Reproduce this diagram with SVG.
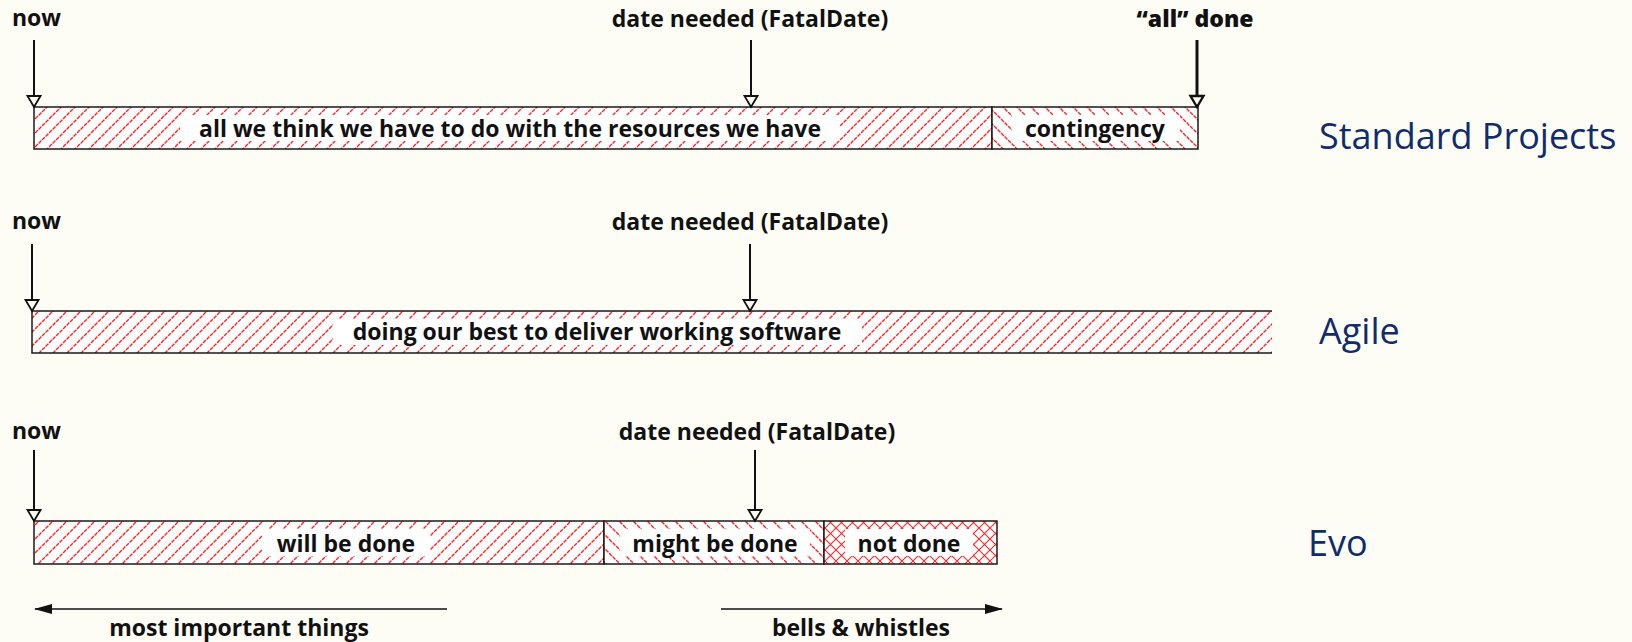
<svg xmlns="http://www.w3.org/2000/svg" width="1632" height="642" viewBox="0 0 1632 642">
  <style>
    .lbl { font-family: "Open Sans", "Liberation Sans", sans-serif; font-weight: 700; font-size: 23px; fill: #111; }
    .mid { text-anchor: middle; }
    .heavy { font-weight: 800; }
    .title { font-family: "Open Sans", "Liberation Sans", sans-serif; font-weight: 400; font-size: 36px; fill: #102c6c; }
    .edge { fill: none; stroke: #1a1a1a; stroke-width: 1.5; }
    .pad { fill: #ffffff; }
    .ptr { stroke: #111; stroke-width: 2; fill: none; }
    .ptr-bold { stroke: #111; stroke-width: 3; fill: none; }
  </style>
  <defs>
    <!-- forward hatch "/" -->
    <pattern id="hatchF" patternUnits="userSpaceOnUse" width="14" height="14">
      <rect width="14" height="14" fill="#ffffff"/>
      <path d="M-3,3 L3,-3 M0,14 L14,0 M11,17 L17,11" stroke="#ff2424" stroke-width="1.4" stroke-dasharray="4 1"/>
    </pattern>
    <!-- backward hatch "\" -->
    <pattern id="hatchB" patternUnits="userSpaceOnUse" width="14" height="14">
      <rect width="14" height="14" fill="#ffffff"/>
      <path d="M-3,11 L3,17 M0,0 L14,14 M11,-3 L17,3" stroke="#ff2424" stroke-width="1.4" stroke-dasharray="4 1"/>
    </pattern>
    <!-- cross hatch "x" -->
    <pattern id="hatchX" patternUnits="userSpaceOnUse" width="11" height="11">
      <rect width="11" height="11" fill="#ffffff"/>
      <path d="M0,0 L11,11 M0,11 L11,0" stroke="#ff2424" stroke-width="1.1"/>
    </pattern>
    <marker id="openHead" viewBox="0 0 12 14" refX="11" refY="7" markerWidth="12" markerHeight="14" markerUnits="userSpaceOnUse" orient="auto" overflow="visible">
      <path d="M0,0.5 L11,7 L0,13.5 Z" fill="#fdfdf6" stroke="#111" stroke-width="1.8" stroke-linejoin="miter"/>
    </marker>
    <marker id="openHeadBold" viewBox="0 0 12 14" refX="11" refY="7" markerWidth="12" markerHeight="14" markerUnits="userSpaceOnUse" orient="auto" overflow="visible">
      <path d="M0,0.5 L11,7 L0,13.5 Z" fill="#fdfdf6" stroke="#111" stroke-width="2.4" stroke-linejoin="miter"/>
    </marker>
    <marker id="solidHead" viewBox="0 0 18 10" refX="17" refY="5" markerWidth="18" markerHeight="10" markerUnits="userSpaceOnUse" orient="auto" overflow="visible">
      <path d="M0,0 L18,5 L0,10 Z" fill="#111"/>
    </marker>
  </defs>

  <rect width="1632" height="642" fill="#fdfdf6"/>

  <!-- ===== Standard Projects ===== -->
  <g id="std-work">
    <rect x="34" y="107" width="958" height="42" fill="url(#hatchF)"/>
    <rect class="pad" x="180" y="115" width="660" height="26"/>
    <rect class="edge" x="34" y="107" width="958" height="42"/>
    <text class="lbl mid" x="510" y="137">all we think we have to do with the resources we have</text>
  </g>
  <g id="std-contingency">
    <rect x="992" y="107" width="206" height="42" fill="url(#hatchB)"/>
    <rect class="pad" x="1012" y="115" width="168" height="26"/>
    <rect class="edge" x="992" y="107" width="206" height="42"/>
    <text class="lbl mid" x="1095" y="137">contingency</text>
  </g>
  <g id="std-title">
    <text class="title" x="1319" y="149">Standard Projects</text>
  </g>
  <g id="std-markers">
    <text class="lbl" x="12" y="26">now</text>
    <text class="lbl mid" x="750" y="27">date needed (FatalDate)</text>
    <text class="lbl mid heavy" x="1195" y="27">“all” done</text>
  </g>

  <!-- ===== Agile ===== -->
  <g id="agile-work">
    <rect x="32" y="311" width="1240" height="42" fill="url(#hatchF)"/>
    <rect class="pad" x="333" y="319" width="529" height="26"/>
    <path class="edge" d="M1272,311 H32 V353 H1272"/>
    <text class="lbl mid" x="597" y="340">doing our best to deliver working software</text>
  </g>
  <g id="agile-title">
    <text class="title" x="1319" y="344">Agile</text>
  </g>
  <g id="agile-markers">
    <text class="lbl" x="12" y="229">now</text>
    <text class="lbl mid" x="750" y="230">date needed (FatalDate)</text>
  </g>

  <!-- ===== Evo ===== -->
  <g id="evo-will">
    <rect x="34" y="521" width="570" height="43" fill="url(#hatchF)"/>
    <rect class="pad" x="262" y="529" width="168" height="27"/>
    <rect class="edge" x="34" y="521" width="570" height="43"/>
    <text class="lbl mid" x="346" y="552">will be done</text>
  </g>
  <g id="evo-might">
    <rect x="604" y="521" width="220" height="43" fill="url(#hatchB)"/>
    <rect class="pad" x="620" y="529" width="190" height="27"/>
    <rect class="edge" x="604" y="521" width="220" height="43"/>
    <text class="lbl mid" x="715" y="552">might be done</text>
  </g>
  <g id="evo-not">
    <rect x="824" y="521" width="173" height="43" fill="url(#hatchX)"/>
    <rect class="pad" x="845" y="529" width="128" height="27"/>
    <rect class="edge" x="824" y="521" width="173" height="43"/>
    <text class="lbl mid" x="909" y="552">not done</text>
  </g>
  <g id="evo-title">
    <text class="title" x="1308" y="556">Evo</text>
  </g>
  <g id="evo-markers">
    <text class="lbl" x="12" y="439">now</text>
    <text class="lbl mid" x="757" y="440">date needed (FatalDate)</text>
  </g>

  <!-- ===== priority legend ===== -->
  <g id="legend-important">
    <text class="lbl mid" x="239" y="636">most important things</text>
  </g>
  <g id="legend-bells">
    <text class="lbl mid" x="861" y="636">bells &amp; whistles</text>
  </g>

  <!-- ===== connectors ===== -->
  <g id="connectors">
    <line class="ptr" x1="34" y1="40" x2="34" y2="107" marker-end="url(#openHead)"/>
    <line class="ptr" x1="751" y1="40" x2="751" y2="107" marker-end="url(#openHead)"/>
    <line class="ptr-bold" x1="1197" y1="40" x2="1197" y2="107" marker-end="url(#openHeadBold)"/>

    <line class="ptr" x1="32" y1="244" x2="32" y2="311" marker-end="url(#openHead)"/>
    <line class="ptr" x1="750" y1="244" x2="750" y2="311" marker-end="url(#openHead)"/>

    <line class="ptr" x1="34" y1="450" x2="34" y2="521" marker-end="url(#openHead)"/>
    <line class="ptr" x1="755" y1="450" x2="755" y2="521" marker-end="url(#openHead)"/>

    <line x1="447" y1="609" x2="35" y2="609" stroke="#111" stroke-width="1.5" marker-end="url(#solidHead)"/>
    <line x1="721" y1="609" x2="1002" y2="609" stroke="#111" stroke-width="1.5" marker-end="url(#solidHead)"/>
  </g>
</svg>
